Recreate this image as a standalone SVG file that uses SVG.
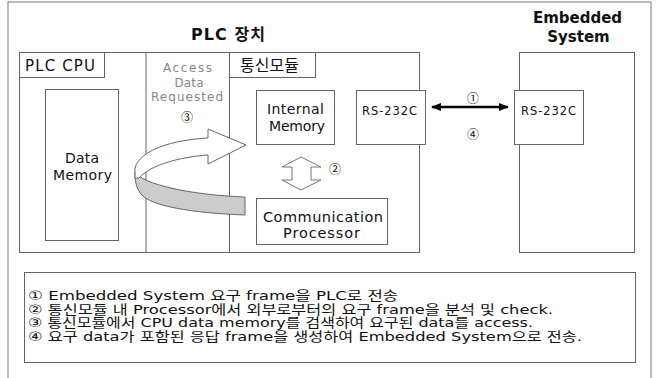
<svg xmlns="http://www.w3.org/2000/svg" width="658" height="378" viewBox="0 0 658 378">
<style>
  .box{fill:#fff;stroke:#666;stroke-width:1}
  .t{font-family:"DejaVu Sans","Noto Sans CJK KR",sans-serif;fill:#111}
  .k{font-family:"DejaVu Sans","Noto Sans CJK KR",sans-serif;fill:#111}
  .g{font-family:"DejaVu Sans","Noto Sans CJK KR",sans-serif;fill:#888;font-size:12px}
  .n{font-family:"Noto Sans CJK KR",sans-serif;fill:#111;font-size:12px}
  .m{font-family:"Noto Sans CJK KR",sans-serif;fill:#111;font-size:16px}
  .c{text-anchor:middle}
  .lg{font-family:"DejaVu Sans","Noto Sans CJK KR",sans-serif;fill:#111;font-size:13px}
</style>
<defs>
  <marker id="ah" viewBox="0 0 10 10" refX="9" refY="5" markerWidth="4" markerHeight="4" orient="auto-start-reverse">
    <path d="M0,1 L10,5 L0,9 Z" fill="#000"/>
  </marker>
</defs>
<rect x="0" y="0" width="658" height="378" fill="#fff"/>
<g id="frame">
  <rect x="8" y="2" width="643" height="390" fill="none" stroke="#777" stroke-width="1"/>
</g>
<g id="plc">
  <rect class="box" x="19.5" y="52.5" width="400" height="200"/>
  <line x1="146" y1="52.5" x2="146" y2="252.5" stroke="#666"/>
  <line x1="229.5" y1="52.5" x2="229.5" y2="252.5" stroke="#666"/>
  <text class="k" x="191" y="40" font-size="16" font-weight="bold" textLength="74">PLC 장치</text>
</g>
<g id="plc-cpu">
  <rect class="box" x="19.5" y="52.5" width="85" height="25"/>
  <text class="t" x="25" y="70.5" font-size="15" textLength="70">PLC CPU</text>
</g>
<g id="comm-module">
  <rect class="box" x="229.5" y="52.5" width="86" height="25"/>
  <text class="m" x="240" y="71">통신모듈</text>
</g>
<g id="access-label">
  <text class="g c" x="187.5" y="72" textLength="49">Access</text>
  <text class="g c" x="189" y="87" textLength="29">Data</text>
  <text class="g c" x="187" y="101" textLength="72">Requested</text>
  <text class="n c" x="187" y="122">③</text>
</g>
<g id="data-memory">
  <rect class="box" x="45.5" y="89.5" width="73" height="151"/>
  <text class="t c" x="82" y="163" font-size="14" textLength="34">Data</text>
  <text class="t c" x="82.5" y="180" font-size="14" textLength="59">Memory</text>
</g>
<g id="internal-memory">
  <rect class="box" x="256.5" y="90.5" width="78" height="54"/>
  <text class="t c" x="295.5" y="114" font-size="14" textLength="57">Internal</text>
  <text class="t c" x="297" y="131" font-size="14" textLength="56">Memory</text>
</g>
<g id="comm-processor">
  <rect class="box" x="256.5" y="198.5" width="131" height="46"/>
  <text class="t c" x="323" y="222" font-size="14.5" textLength="120">Communication</text>
  <text class="t c" x="321.5" y="238" font-size="14.5" textLength="77">Processor</text>
</g>
<g id="rs232-plc">
  <rect class="box" x="356.5" y="90.5" width="69" height="54"/>
  <text class="t c" x="389.5" y="115" font-size="11.5" fill="#333" textLength="55">RS-232C</text>
</g>
<g id="embedded">
  <rect class="box" x="519.5" y="52.5" width="115" height="200"/>
  <text class="t c" x="577.5" y="23" font-size="15" font-weight="bold">Embedded</text>
  <text class="t c" x="578.5" y="42" font-size="15" font-weight="bold">System</text>
</g>
<g id="rs232-emb">
  <rect class="box" x="514.5" y="90.5" width="69" height="54"/>
  <text class="t c" x="548.5" y="115" font-size="11.5" fill="#333" textLength="55">RS-232C</text>
</g>
<g id="connectors">
  <line x1="432" y1="107" x2="508" y2="107" stroke="#000" stroke-width="2.5" marker-start="url(#ah)" marker-end="url(#ah)"/>
  <text class="n c" x="473" y="103">①</text>
  <text class="n c" x="473" y="139">④</text>
  <path d="M301,157 L321,167 L311,167 L311,180 L321,180 L301,190 L282,180 L292,180 L292,167 L282,167 Z" fill="#fff" stroke="#777" stroke-width="1"/>
  <text class="n c" x="335" y="174">②</text>
  <path d="M135,172 C142,184 190,195 245,197 L245,215 C192,213 150,206 141,194 C137,189 135,182 135,176 Z" fill="#ccc" stroke="#666" stroke-width="1"/>
  <path d="M208,138 L208,129 L246,145 L208,164 L208,155 C180,157 150,165 139,178 L135,178 L135,168 C140,150 172,140 208,138 Z" fill="#fff" stroke="#666" stroke-width="1"/>
</g>
<g id="legend">
  <rect class="box" x="24.5" y="272.5" width="611" height="90"/>
  <text class="lg" x="28" y="300" textLength="370" lengthAdjust="spacingAndGlyphs">① Embedded System 요구 frame을 PLC로 전송</text>
  <text class="lg" x="28" y="313.5" textLength="525" lengthAdjust="spacingAndGlyphs">② 통신모듈 내 Processor에서 외부로부터의 요구 frame을 분석 및 check.</text>
  <text class="lg" x="28" y="327" textLength="505" lengthAdjust="spacingAndGlyphs">③ 통신모듈에서 CPU data memory를 검색하여 요구된 data를 access.</text>
  <text class="lg" x="28" y="340.5" textLength="554" lengthAdjust="spacingAndGlyphs">④ 요구 data가 포함된 응답 frame을 생성하여 Embedded System으로 전송.</text>
</g>
</svg>
